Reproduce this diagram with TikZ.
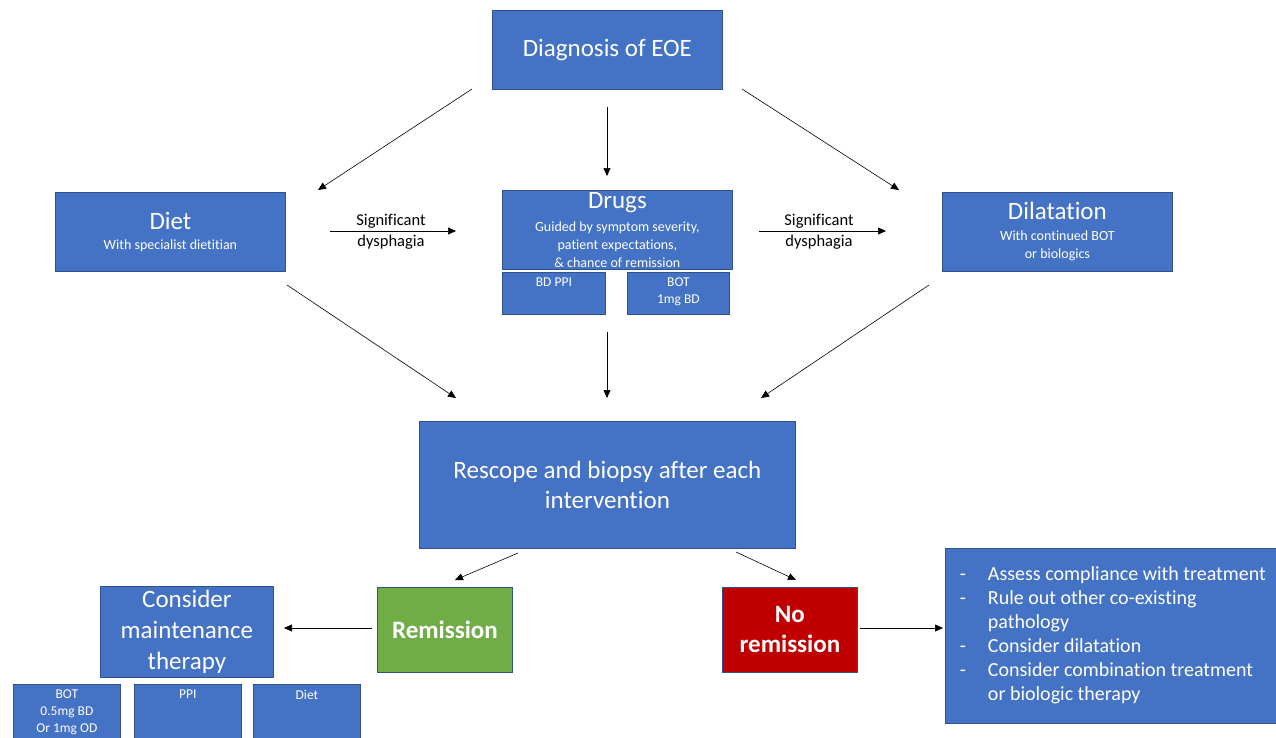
\documentclass[tikz,border=0pt]{standalone}
\usepackage{fontspec}
\setmainfont{Carlito}[Ligatures=NoCommon]
\usetikzlibrary{arrows.meta}

\definecolor{boxblue}{HTML}{4472C4}
\definecolor{boxline}{HTML}{2F528F}
\definecolor{remgreen}{HTML}{70AD47}
\definecolor{noremred}{HTML}{C00000}

\newcommand{\bigtxt}{\fontsize{25}{30}\selectfont}
\newcommand{\subtxt}{\fontsize{14}{18}\selectfont}
\newcommand{\smalltxt}{\fontsize{13.5}{17}\selectfont}

\tikzset{
  box/.style={draw=boxline, fill=boxblue, text=white, line width=0.8pt, inner sep=0pt, anchor=north west, align=center},
  titled/.style={box, minimum width=230, minimum height=79, font=\subtxt},
  toplbl/.style={anchor=north, inner sep=0pt, inner ysep=6pt, text=white, align=center, font=\smalltxt},
  arr/.style={-{Triangle[length=8pt,width=7pt]}, line width=0.6pt},
}

\begin{document}
\begin{tikzpicture}[x=1pt,y=1pt,yscale=-1,xscale=1]
    \useasboundingbox (0,0) rectangle (1276,737);
    
    % Main boxes
    \node[box, minimum width=230, minimum height=79, font=\bigtxt] (diag) at (492,10) {Diagnosis of EOE};
    \node[titled] (diet) at (55,192) {{\bigtxt Diet}\\[2pt]With specialist dietitian};
    \node[titled] (drugs) at (502,190) {{\bigtxt Drugs}\\[5pt]Guided by symptom severity,\\ patient expectations,\\ \& chance of remission};
    \node[titled] (dilat) at (942,192) {{\bigtxt Dilatation}\\[3pt]With continued BOT\\ or biologics};
    \node[box, minimum width=376, minimum height=127, font=\bigtxt] (rescope) at (419,421) {Rescope and biopsy after each\\ intervention};
    
    % Drug options
    \node[box, minimum width=103, minimum height=42, label={[toplbl]north:BD PPI}] (bdppi) at (502,272) {};
    \node[box, minimum width=102, minimum height=42, label={[toplbl]north:BOT\\1mg BD}] (botbd) at (627,272) {};
    
    % Outcomes
    \node[box, fill=remgreen, minimum width=135, minimum height=85, font=\bigtxt\bfseries] (remis) at (377,587) {Remission};
    \node[box, fill=noremred, minimum width=135, minimum height=85, font=\bigtxt\bfseries] (norem) at (722,587) {No\\ remission};
    \node[box, minimum width=173, minimum height=91, font=\fontsize{25}{31}\selectfont] (maint) at (100,586) {Consider\\ maintenance\\ therapy};
    
    % Maintenance options
    \node[box, minimum width=107, minimum height=62, label={[toplbl]north:BOT\\0.5mg BD\\Or 1mg OD}] (botm) at (13,684) {};
    \node[box, minimum width=107, minimum height=62, label={[toplbl]north:PPI}] (ppim) at (134,684) {};
    \node[box, minimum width=107, minimum height=62, label={[toplbl]north:Diet}] (dietm) at (253,684) {};
    
    % Next steps
    \node[box, minimum width=345, minimum height=175, align=left, font=\fontsize{20}{24}\selectfont] (steps) at (945,548) {%
      \begin{tabular}{@{}p{28pt}@{}l@{}}
      -& Assess compliance with treatment\\
      -& Rule out other co-existing\\
       & pathology\\
      -& Consider dilatation\\
      -& Consider combination treatment\\
       & or biologic therapy
      \end{tabular}\hspace{10pt}\rule[-8pt]{0pt}{0pt}};
    
    % Arrow labels
    \node[align=center, font=\fontsize{16.5}{21}\selectfont] (sig1) at (391,232) {Significant\\ dysphagia};
    \node[align=center, font=\fontsize{16.5}{21}\selectfont] (sig2) at (819,232) {Significant\\ dysphagia};
    
    % Arrow ends
    \coordinate (a1s) at (472,89);   \coordinate (a1e) at (318,190);
    \coordinate (a2s) at (607,107);  \coordinate (a2e) at (607,176);
    \coordinate (a3s) at (742,89);   \coordinate (a3e) at (899,190);
    \coordinate (a4s) at (330,231);  \coordinate (a4e) at (456,231);
    \coordinate (a5s) at (759,231);  \coordinate (a5e) at (886,231);
    \coordinate (a6s) at (287,285);  \coordinate (a6e) at (456,398);
    \coordinate (a7s) at (607,332);  \coordinate (a7e) at (607,398);
    \coordinate (a8s) at (929,285);  \coordinate (a8e) at (761,398);
    \coordinate (a9s) at (518,553);  \coordinate (a9e) at (455,580);
    \coordinate (a10s) at (736,552); \coordinate (a10e) at (796,580);
    \coordinate (a11s) at (372,628); \coordinate (a11e) at (284,628);
    \coordinate (a12s) at (860,628); \coordinate (a12e) at (943,628);
    
    % Arrows
    \draw[arr] (a1s) -- (a1e);
    \draw[arr] (a2s) -- (a2e);
    \draw[arr] (a3s) -- (a3e);
    \draw[arr] (a4s) -- (a4e);
    \draw[arr] (a5s) -- (a5e);
    \draw[arr] (a6s) -- (a6e);
    \draw[arr] (a7s) -- (a7e);
    \draw[arr] (a8s) -- (a8e);
    \draw[arr] (a9s) -- (a9e);
    \draw[arr] (a10s) -- (a10e);
    \draw[arr] (a11s) -- (a11e);
    \draw[arr] (a12s) -- (a12e);
    
\end{tikzpicture}
\end{document}
